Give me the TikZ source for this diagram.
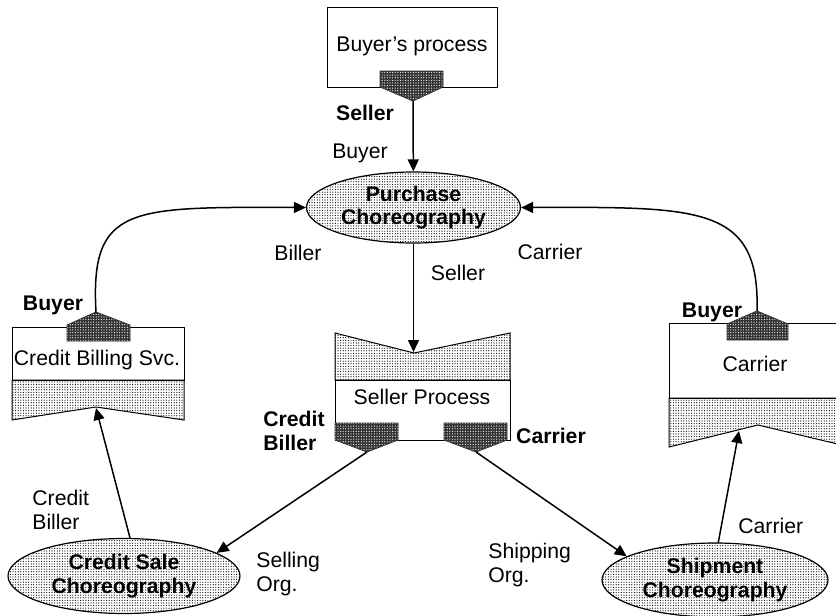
\documentclass[tikz,border=0pt]{standalone}
\usepackage{fontspec}
\setmainfont{Liberation Sans}
\usetikzlibrary{shapes.geometric,patterns.meta,arrows.meta}
\newcommand{\figfont}{\fontsize{10.6}{11.8}\selectfont}

\tikzset{
	lightdots/.style={pattern={Dots[radius=0.3pt,distance=1.3pt]}, pattern color=black},
	portdots/.style={preaction={fill=black!80}, pattern={Dots[radius=0.3pt,distance=1.3pt]}, pattern color=white, draw=black!80, line width=0.4pt},
	choreo/.style={ellipse, draw, line width=0.6pt, lightdots, inner sep=0pt, align=center, font=\figfont\bfseries},
	role/.style={align=left, inner sep=0pt, font=\figfont},
	rolebold/.style={role, font=\figfont\bfseries},
	link/.style={-{Triangle[length=6pt,width=5.5pt]}, line width=0.75pt},
	procbox/.style={draw, line width=0.5pt}
}

\begin{document}
\begin{tikzpicture}[x=0.5pt, y=-0.5pt]
		%%%%% START %%%%%
		\useasboundingbox (0, 0) rectangle (836, 616);
		\clip (0, 0) rectangle (836, 616);
		
		% buyer's process
		\draw[procbox, fill=white] (327, 7) rectangle (497, 87);
		\node[role] (buyerproc) at (412, 46) {Buyer’s process};
		\draw[portdots] (380, 71) -- (443, 71) -- (443, 87) -- (413, 101) -- (380, 87) -- cycle;
		\coordinate (bpPort) at (413, 101);
		
		% choreographies
		\node[choreo, minimum width=107pt, minimum height=35.5pt] (purchase) at (413.5, 207.5) {Purchase\\Choreography};
		\node[choreo, minimum width=116pt, minimum height=37.5pt] (creditsale) at (124, 576) {Credit Sale\\Choreography};
		\node[choreo, minimum width=113pt, minimum height=37pt] (shipment) at (715, 580) {Shipment\\Choreography};
		
		% credit billing svc.
		\draw[procbox, fill=white] (12, 327) rectangle (184, 380);
		\draw[procbox, lightdots] (12, 380) -- (184, 380) -- (184, 420) -- (96, 407) -- (12, 420) -- cycle;
		\node[role] (creditbill) at (97, 360) {Credit Billing Svc.};
		\draw[portdots] (67, 341) -- (67, 325) -- (96, 312) -- (130, 325) -- (130, 341) -- cycle;
		\coordinate (cbPort) at (96, 312);
		\coordinate (cbNotch) at (96, 408);
		
		% seller process
		\draw[procbox, fill=white] (335, 380) rectangle (510, 440);
		\draw[procbox, lightdots] (335, 333) -- (414, 353) -- (510, 333) -- (510, 380) -- (335, 380) -- cycle;
		\node[role] (sellerproc) at (422, 397) {Seller Process};
		\draw[portdots] (335, 423) -- (398, 423) -- (398, 440) -- (367, 452) -- (335, 440) -- cycle;
		\draw[portdots] (444, 423) -- (507, 423) -- (507, 440) -- (476, 452) -- (444, 440) -- cycle;
		\coordinate (spNotch) at (413.5, 352);
		\coordinate (spBiller) at (367, 452);
		\coordinate (spCarrier) at (476, 452);
		
		% carrier
		\draw[procbox, fill=white] (669, 323) rectangle (850, 398);
		\draw[procbox, lightdots] (669, 398) -- (850, 398) -- (850, 447) -- (758, 425) -- (669, 447) -- cycle;
		\node[role] (carrier) at (755, 364) {Carrier};
		\draw[portdots] (727, 340) -- (727, 324) -- (757, 311) -- (788, 324) -- (788, 340) -- cycle;
		\coordinate (crPort) at (757, 311);
		\coordinate (crNotch) at (739, 431);
		
		% connectors
		\draw[link] (bpPort) -- (purchase);
		\draw[link] (cbPort) .. controls (90, 205) and (130, 207) .. (purchase.west);
		\draw[link] (crPort) .. controls (760, 205) and (700, 207) .. (purchase.east);
		\draw[link] (purchase) -- (spNotch);
		\draw[link] (spBiller) -- (creditsale.14);
		\draw[link] (spCarrier) -- (shipment.165);
		\draw[link] (creditsale.81) -- (cbNotch);
		\draw[link] (shipment.85) -- (crNotch);
		
		% role labels
		\node[rolebold] (lSeller) at (365, 113) {Seller};
		\node[role] (lBuyer) at (360, 153) {Buyer};
		\node[role] (lBiller) at (298, 253) {Biller};
		\node[role] (lSeller2) at (458, 273) {Seller};
		\node[role] (lCarrier) at (550, 252) {Carrier};
		\node[rolebold] (lBuyer2) at (53, 305) {Buyer};
		\node[rolebold] (lBuyer3) at (712, 312) {Buyer};
		\node[rolebold, anchor=west] (lCredBiller) at (263, 431) {Credit\\Biller};
		\node[rolebold] (lCarrier2) at (551, 436) {Carrier};
		\node[role, anchor=west] (lCredBiller2) at (32, 510) {Credit\\Biller};
		\node[role, anchor=west] (lSelling) at (256, 574) {Selling\\Org.};
		\node[role, anchor=west] (lShipping) at (488, 565) {Shipping\\Org.};
		\node[role, anchor=west] (lCarrier3) at (738, 526) {Carrier};
		
		%%%%% END %%%%%
\end{tikzpicture}
\end{document}
